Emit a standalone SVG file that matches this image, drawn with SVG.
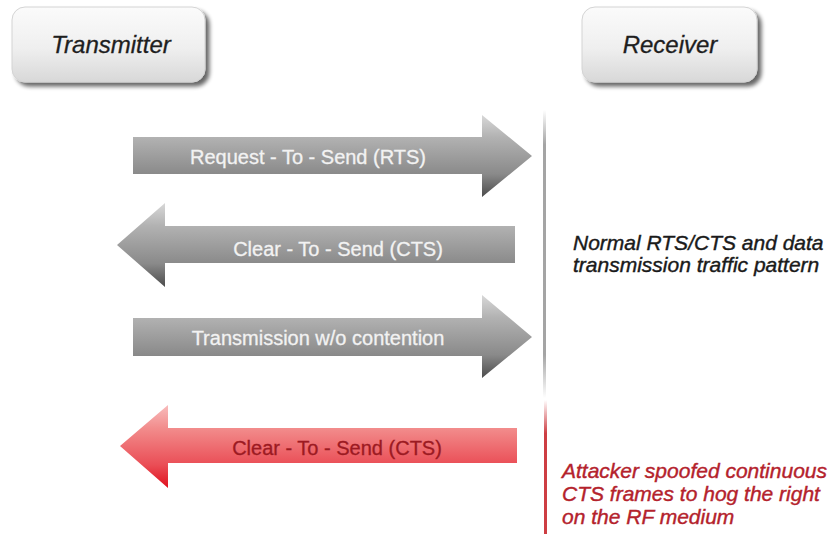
<svg xmlns="http://www.w3.org/2000/svg" width="834" height="534" viewBox="0 0 834 534">
<defs>
<linearGradient id="boxG" x1="0" y1="0" x2="0" y2="1">
<stop offset="0" stop-color="#fbfbfb"/>
<stop offset="0.55" stop-color="#efefef"/>
<stop offset="1" stop-color="#d8d8d8"/>
</linearGradient>
<linearGradient id="grayG" x1="0" y1="0" x2="0" y2="1">
<stop offset="0" stop-color="#d8d8d8"/>
<stop offset="0.27" stop-color="#b2b2b2"/>
<stop offset="0.72" stop-color="#8a8a8a"/>
<stop offset="1" stop-color="#4c4c4c"/>
</linearGradient>
<linearGradient id="redG" x1="0" y1="0" x2="0" y2="1">
<stop offset="0" stop-color="#f8bcbc"/>
<stop offset="0.28" stop-color="#f28c8c"/>
<stop offset="0.72" stop-color="#ea4e56"/>
<stop offset="1" stop-color="#e0101e"/>
</linearGradient>
<linearGradient id="vGray" x1="0" y1="0" x2="0" y2="1">
<stop offset="0" stop-color="#9a9a9a" stop-opacity="0"/>
<stop offset="0.12" stop-color="#9a9a9a" stop-opacity="0.9"/>
<stop offset="0.85" stop-color="#9a9a9a" stop-opacity="0.9"/>
<stop offset="1" stop-color="#9a9a9a" stop-opacity="0"/>
</linearGradient>
<linearGradient id="vRed" x1="0" y1="0" x2="0" y2="1">
<stop offset="0" stop-color="#c8282e" stop-opacity="0"/>
<stop offset="0.25" stop-color="#c8282e" stop-opacity="0.9"/>
<stop offset="1" stop-color="#c8282e" stop-opacity="0.9"/>
</linearGradient>
<filter id="shadow" x="-10%" y="-20%" width="130%" height="150%">
<feGaussianBlur in="SourceAlpha" stdDeviation="2"/>
<feOffset dx="4" dy="4" result="b"/>
<feComponentTransfer><feFuncA type="linear" slope="0.6"/></feComponentTransfer>
<feMerge><feMergeNode/><feMergeNode in="SourceGraphic"/></feMerge>
</filter>
</defs>
<style>
.box{fill:url(#boxG);stroke:#d4d4d4;stroke-width:1;filter:url(#shadow)}
.head{font-family:"Liberation Sans",Arial,sans-serif;font-style:italic;font-size:24px;fill:#1e1e1e;stroke:#1e1e1e;stroke-width:0.3;text-anchor:middle}
.garrow{fill:url(#grayG)}
.rarrow{fill:url(#redG)}
.glabel{font-family:"Liberation Sans",Arial,sans-serif;font-size:20px;fill:#f2f2f2;stroke:#f2f2f2;stroke-width:0.3;text-anchor:middle}
.rlabel{font-family:"Liberation Sans",Arial,sans-serif;font-size:20px;fill:#9c1a22;stroke:#9c1a22;stroke-width:0.3;text-anchor:middle}
.note{font-family:"Liberation Sans",Arial,sans-serif;font-style:italic;font-size:21px;fill:#1a1a1a;stroke:#1a1a1a;stroke-width:0.4}
.rnote{font-family:"Liberation Sans",Arial,sans-serif;font-style:italic;font-size:21px;fill:#b4222c;stroke:#b4222c;stroke-width:0.4}
</style>
<rect width="834" height="534" fill="#ffffff"/>
<g id="transmitter">
<rect class="box" x="12" y="7" width="193" height="75" rx="13"/>
<text class="head" x="111" y="53">Transmitter</text>
</g>
<g id="receiver">
<rect class="box" x="582" y="7" width="175" height="75" rx="13"/>
<text class="head" x="670" y="53">Receiver</text>
</g>
<g id="timelines">
<rect x="543" y="110" width="3" height="288" fill="url(#vGray)"/>
<rect x="544" y="400" width="3" height="134" fill="url(#vRed)"/>
</g>
<g id="connectors">
<g id="rts">
<polygon class="garrow" points="133,137 482,137 482,115 532,156 482,197 482,174 133,174"/>
<text class="glabel" x="308" y="164">Request - To - Send (RTS)</text>
</g>
<g id="cts">
<polygon class="garrow" points="515,226 165,226 165,203 117,245 165,287 165,263 515,263"/>
<text class="glabel" x="338" y="256">Clear - To - Send (CTS)</text>
</g>
<g id="data">
<polygon class="garrow" points="133,318 482,318 482,295 532,337 482,378 482,356 133,356"/>
<text class="glabel" x="318" y="345">Transmission w/o contention</text>
</g>
<g id="spoofed-cts">
<polygon class="rarrow" points="517,428 168,428 168,405 120,446 168,488 168,463 517,463"/>
<text class="rlabel" x="337" y="455">Clear - To - Send (CTS)</text>
</g>
</g>
<g id="note-normal">
<text class="note" x="573" y="250">Normal RTS/CTS and data</text>
<text class="note" x="573" y="272">transmission traffic pattern</text>
</g>
<g id="note-attack">
<text class="rnote" x="562" y="478">Attacker spoofed continuous</text>
<text class="rnote" x="562" y="501">CTS frames to hog the right</text>
<text class="rnote" x="562" y="524">on the RF medium</text>
</g>
</svg>
